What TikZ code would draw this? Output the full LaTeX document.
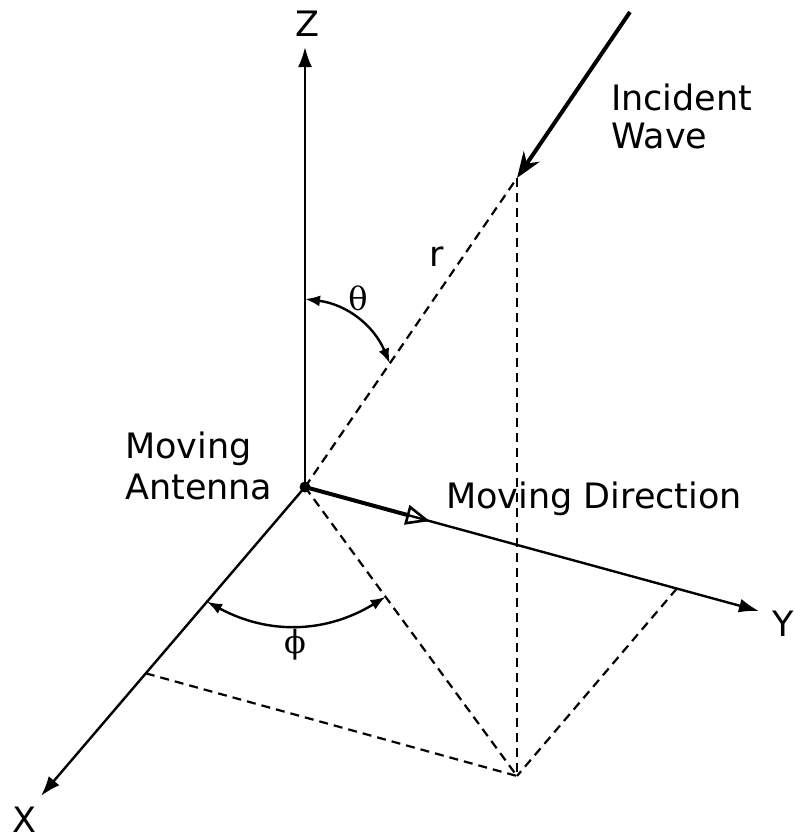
\documentclass[tikz,border=0pt]{standalone}
\usepackage{fontspec}
\setmainfont{DejaVu Sans}
\newfontfamily\greekfont{DejaVu Serif}
\usetikzlibrary{arrows.meta,calc}
\begin{document}
\begin{tikzpicture}[x=1pt,y=-1pt,
  axis/.style={line width=2.4pt,-{Latex[length=20pt,width=14pt]}},
  proj/.style={line width=2.2pt,dash pattern=on 9pt off 6pt},
  anglearc/.style={line width=2.4pt,{Latex[length=15pt,width=11pt]}-{Latex[length=15pt,width=11pt]}},
  lbl/.style={font=\fontsize{35}{41}\selectfont,inner sep=0pt},
  glbl/.style={font=\greekfont\fontsize{32}{38}\selectfont,inner sep=0pt}
]
\useasboundingbox (0,0) rectangle (795,839);
% key points
\coordinate (O) at (305,487);
\coordinate (Ztip) at (305,47);
\coordinate (Xtip) at (41,796);
\coordinate (Ytip) at (759,611);
\coordinate (P) at (517,178);
\coordinate (W) at (630,12);
\coordinate (F) at (517,776);
\coordinate (Xp) at ($(O)!0.603!(Xtip)$);
\coordinate (Yp) at ($(O)!0.819!(Ytip)$);
\coordinate (M) at ($(O)!0.275!(Ytip)$);
\coordinate (A1) at (305,299);
\coordinate (A2) at ($(O)!0.40!(P)$);
\coordinate (B1) at ($(O)!0.371!(Xtip)$);
\coordinate (B2) at ($(O)!0.38!(F)$);
% axes
\draw[axis] (O) -- (Ztip);
\draw[axis] (O) -- (Xtip);
\draw[axis] (O) -- (Ytip);
% projections
\draw[proj] (O) -- (P);
\draw[proj] (P) -- (F);
\draw[proj] (O) -- (F);
\draw[proj] (Xp) -- (F);
\draw[proj] (Yp) -- (F);
% incident wave
\draw[line width=4pt,-{Stealth[length=26pt,width=19pt]}] (W) -- (P);
% moving direction
\draw[line width=4pt,-{Triangle[open,length=24pt,width=20pt,line width=2.6pt]}] (O) -- (M);
\fill (O) circle (5.5pt);
% angles
\draw[anglearc] (A1) to[bend left=30] (A2);
\draw[anglearc] (B1) to[bend right=30] (B2);
% labels
\node[lbl,anchor=base] (zl) at (307,36) {Z};
\node[lbl,anchor=base] (xl) at (24,832) {X};
\node[lbl,anchor=base] (yl) at (783,636) {Y};
\node[lbl,anchor=base west] (inc1) at (611,110) {Incident};
\node[lbl,anchor=base west] (inc2) at (611,148) {Wave};
\node[lbl,anchor=base west] (ma1) at (125,458) {Moving};
\node[lbl,anchor=base west] (ma2) at (125,499) {Antenna};
\node[lbl,anchor=base west] (md) at (446,508) {Moving Direction};
\node[lbl] (rl) at (437,257) {r};
\node[glbl] (th) at (358,298) {θ};
\node[glbl] (ph) at (295,645) {ϕ};
\end{tikzpicture}
\end{document}
